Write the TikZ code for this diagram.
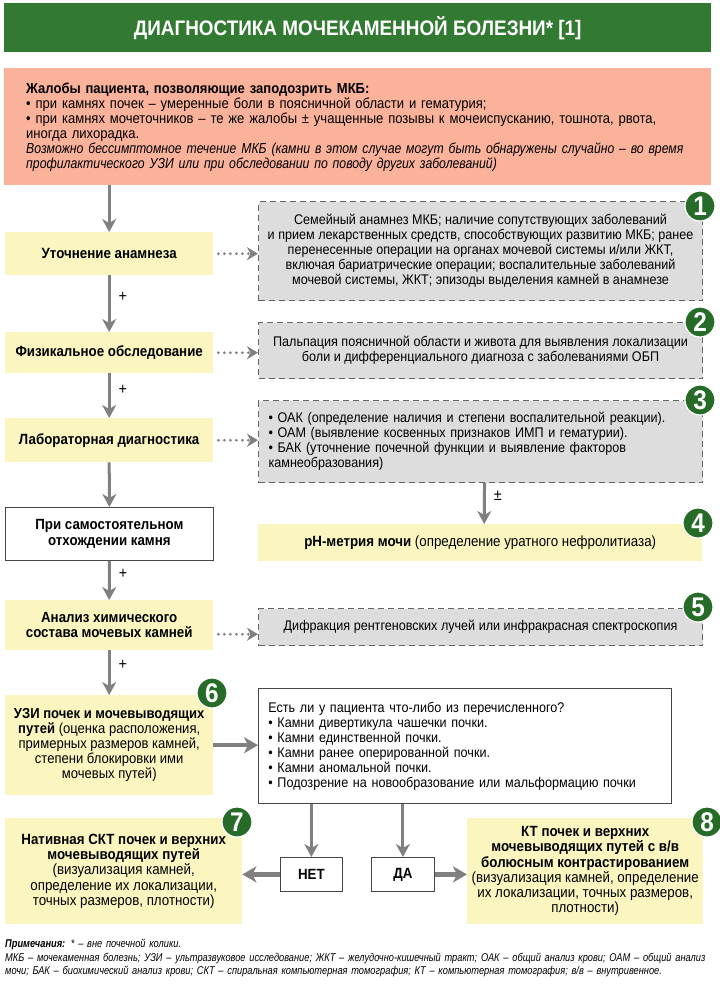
\documentclass[tikz,border=0pt]{standalone}
\usepackage{fontspec}
\setmainfont{Liberation Sans}[FakeStretch=0.9]
\newfontfamily\footfam{Liberation Sans}[FakeStretch=0.82]
\newfontfamily\italfam{Liberation Sans}[FakeStretch=0.845]
\usetikzlibrary{arrows.meta,calc}
\definecolor{hdr}{RGB}{50,122,50}
\definecolor{salmon}{RGB}{250,178,155}
\definecolor{yel}{RGB}{251,246,192}
\definecolor{grayf}{RGB}{221,221,221}
\definecolor{dashc}{RGB}{100,100,100}
\definecolor{arrg}{RGB}{128,128,128}
\definecolor{badgeg}{RGB}{38,108,40}
\definecolor{wborder}{RGB}{70,70,70}
\newcommand\myfont{\fontsize{14}{15}\selectfont}
\newcommand\mybig{\fontsize{14.8}{15.2}\selectfont}
\newcommand\mysalm{\fontsize{14.5}{15}\selectfont}
\newcommand\mytitle{\fontsize{21}{24}\selectfont\bfseries}
\newcommand\myfoot{\footfam\fontsize{11.3}{13.6}\selectfont\itshape}
\begin{document}
\begin{tikzpicture}[x=1pt,y=-1pt,
  box/.style={anchor=north west, inner sep=0pt, font=\myfont, align=center},
  ybox/.style={box, fill=yel, font=\mybig},
  gbox/.style={box, fill=grayf, draw=dashc, line width=1.1pt, dash pattern=on 6pt off 4pt},
  wbox/.style={box, fill=white, draw=wborder, line width=0.8pt},
  badge/.style={circle, fill=badgeg, draw=white, line width=1.2pt, minimum size=30pt, inner sep=0pt, text=white, font=\fontsize{27}{27}\selectfont\bfseries},
  arr/.style={draw=arrg, line width=3pt, -{Stealth[length=13pt, width=14pt, inset=4pt]}},
  harr/.style={draw=arrg, line width=4.5pt, -{Stealth[length=14pt, width=16pt, inset=4pt]}},
  darr/.style={draw=arrg, line width=3pt, line cap=round, dash pattern=on 0pt off 6pt, -{Stealth[length=11pt, width=13pt, inset=3.5pt]}},
  lab/.style={font=\fontsize{16}{16}\selectfont, text=black, inner sep=0pt}
]
\useasboundingbox (0,0) rectangle (720,988);

% header
\node[anchor=north west, fill=hdr, minimum width=707, minimum height=49, inner sep=0pt, text=white, font=\mytitle] (title) at (4,3) {ДИАГНОСТИКА МОЧЕКАМЕННОЙ БОЛЕЗНИ* [1]};

% complaints
\node[anchor=north west, fill=salmon, minimum width=707, minimum height=117, inner sep=0pt] (compl) at (4,68) {};
\node[anchor=west, inner sep=0pt, text width=700, align=left, font=\mysalm] (compltxt) at (26,127) {%
\textbf{Жалобы пациента, позволяющие заподозрить МКБ:}\\
• при камнях почек – умеренные боли в поясничной области и гематурия;\\
• при камнях мочеточников – те же жалобы ± учащенные позывы к мочеиспусканию, тошнота, рвота,\\
иногда лихорадка.\\
{\italfam\itshape Возможно бессимптомное течение МКБ (камни в этом случае могут быть обнаружены случайно – во время}\\
{\italfam\itshape профилактического УЗИ или при обследовании по поводу других заболеваний)}};

% left column
\node[ybox, minimum width=208, minimum height=43] (b1) at (5,232) {\textbf{Уточнение анамнеза}};
\node[ybox, minimum width=208, minimum height=41] (b2) at (5,332) {\textbf{Физикальное обследование}};
\node[ybox, minimum width=208, minimum height=44] (b3) at (5,418) {\textbf{Лабораторная диагностика}};
\node[wbox, font=\mybig, minimum width=208, minimum height=53] (b4) at (5,507) {\textbf{При самостоятельном}\\\textbf{отхождении камня}};
\node[ybox, minimum width=208, minimum height=50] (b5) at (5,600) {\textbf{Анализ химического}\\\textbf{состава мочевых камней}};
\node[ybox, font=\mysalm, minimum width=208, minimum height=100] (b6) at (5,695) {\textbf{УЗИ почек и мочевыводящих}\\\textbf{путей} (оценка расположения,\\примерных размеров камней,\\степени блокировки ими\\мочевых путей)};
\node[ybox, minimum width=237, minimum height=106] (b7) at (5,818) {\textbf{Нативная СКТ почек и верхних}\\\textbf{мочевыводящих путей}\\(визуализация камней,\\определение их локализации,\\точных размеров, плотности)};

% right column
\node[gbox, minimum width=444, minimum height=99] (g1) at (258,201) {Семейный анамнез МКБ; наличие сопутствующих заболеваний\\и прием лекарственных средств, способствующих развитию МКБ; ранее\\перенесенные операции на органах мочевой системы и/или ЖКТ,\\включая бариатрические операции; воспалительные заболеваний\\мочевой системы, ЖКТ; эпизоды выделения камней в анамнезе};
\node[gbox, minimum width=444, minimum height=56] (g2) at (258,322) {Пальпация поясничной области и живота для выявления локализации\\боли и дифференциального диагноза с заболеваниями ОБП};
\node[gbox, minimum width=444, minimum height=82, text width=424, inner xsep=10pt, align=left] (g3) at (258,400) {• ОАК (определение наличия и степени воспалительной реакции).\\• ОАМ (выявление косвенных признаков ИМП и гематурии).\\• БАК (уточнение почечной функции и выявление факторов\\камнеобразования)};
\node[ybox, minimum width=444, minimum height=37] (p4) at (258,524) {\textbf{pH-метрия мочи} (определение уратного нефролитиаза)};
\node[gbox, minimum width=444, minimum height=37] (g5) at (258,608) {Дифракция рентгеновских лучей или инфракрасная спектроскопия};
\node[wbox, minimum width=413, minimum height=115, text width=393, inner xsep=10pt, align=left] (q) at (258,688) {Есть ли у пациента что-либо из перечисленного?\\• Камни дивертикула чашечки почки.\\• Камни единственной почки.\\• Камни ранее оперированной почки.\\• Камни аномальной почки.\\• Подозрение на новообразование или мальформацию почки};
\node[wbox, font=\mybig, minimum width=62, minimum height=34] (net) at (280,857) {\textbf{НЕТ}};
\node[wbox, font=\mybig, minimum width=63, minimum height=34] (da) at (371,857) {\textbf{ДА}};
\node[ybox, minimum width=236, minimum height=106] (b8) at (467,818) {\textbf{КТ почек и верхних}\\\textbf{мочевыводящих путей с в/в}\\\textbf{болюсным контрастированием}\\(визуализация камней, определение\\их локализации, точных размеров,\\плотности)};

% badges
\node[badge] (n1) at (700,206) {1};
\node[badge] (n2) at (700,322) {2};
\node[badge] (n3) at (700,400) {3};
\node[badge] (n4) at (698,523) {4};
\node[badge] (n5) at (698,607) {5};
\node[badge] (n6) at (212,693) {6};
\node[badge] (n7) at (237,822) {7};
\node[badge] (n8) at (707,822) {8};

% vertical flow
\draw[arr] (compl.south -| b1.north) -- (b1.north);
\draw[arr] (b1.south) -- node[lab, pos=0.38, right=8pt] {+} (b2.north);
\draw[arr] (b2.south) -- node[lab, pos=0.38, right=8pt] {+} (b3.north);
\draw[arr] (b3.south) -- (b4.north);
\draw[arr] (b4.south) -- node[lab, pos=0.33, right=8pt] {+} (b5.north);
\draw[arr] (b5.south) -- node[lab, pos=0.33, right=8pt] {+} (b6.north);
\draw[arr] ([xshift=4pt]g3.south) -- node[lab, pos=0.3, right=8pt] {±} ([xshift=4pt]p4.north);

% dotted links
\draw[darr] ([xshift=5pt]b1.east) -- (b1.east -| g1.west);
\draw[darr] ([xshift=5pt]b2.east) -- (b2.east -| g2.west);
\draw[darr] ([xshift=5pt]b3.east) -- (b3.east -| g3.west);
\draw[darr] ([xshift=5pt,yshift=-9pt]b5.east) -- ([yshift=-9pt]b5.east -| g5.west);

% lower part
\draw[harr] (b6.east) -- (b6.east -| q.west);
\draw[arr] (q.south -| net.north) -- (net.north);
\draw[arr] (q.south -| da.north) -- (da.north);
\draw[harr] (net.west) -- (net.west -| b7.east);
\draw[harr] (da.east) -- (da.east -| b8.west);

% footnote
\node[anchor=north west, inner sep=0pt, text width=712, align=left, font=\myfoot] (foot) at (5,939) {%
{\bfseries Примечания:} * – вне почечной колики.\\
МКБ – мочекаменная болезнь; УЗИ – ультразвуковое исследование; ЖКТ – желудочно-кишечный тракт; ОАК – общий анализ крови; ОАМ – общий анализ\\
мочи; БАК – биохимический анализ крови; СКТ – спиральная компьютерная томография; КТ – компьютерная томография; в/в – внутривенное.};
\end{tikzpicture}
\end{document}
